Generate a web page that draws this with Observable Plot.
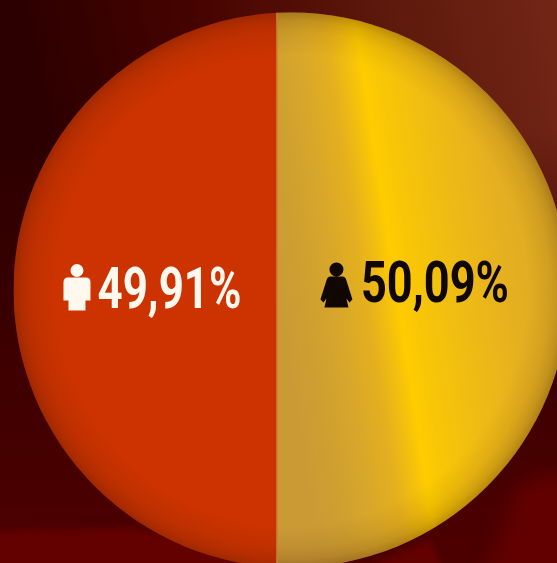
<!DOCTYPE html>
<html>
<head>
<meta charset="utf-8">
<script src="https://cdn.jsdelivr.net/npm/d3@7"></script>
<script src="https://cdn.jsdelivr.net/npm/@observablehq/plot@0.6"></script>
<style>
  html, body { margin: 0; padding: 0; background: #3a0000; overflow: hidden; }
  svg { display: block; }
</style>
</head>
<body>
<div id="chart"></div>
<script>
// Population share by sex
const groups = ["Hombres", "Mujeres"];
const shares = [49.91, 50.09];
const shareLabels = ["49,91%", "50,09%"];
const inkColors = ["#fff8ee", "#100800"];
const labelDy = [25.5, 19.5];
const labelWidths = [144, 148];
const iconDx = [-68.5, -72.5];
const iconDy = [5.5, 3.5];

const W = 557, H = 563;
const disc = {cx: 291, cy: 290, r: 277.5};
const rows = groups.map((group, i) => ({
  group,
  share: shares[i],
  label: shareLabels[i],
  ink: inkColors[i],
  start: i === 0 ? 0 : shares[0],
  end: i === 0 ? shares[0] : 100,
  middle: i === 0 ? shares[0] / 2 : shares[0] + shares[1] / 2
}));

// Person icons are custom symbols so the dot mark can place them.
const unit = (size) => Math.sqrt(size / Math.PI) / 26;
const manSymbol = {
  draw(ctx, size) {
    const k = unit(size);
    ctx.moveTo(6.5 * k, -17 * k);
    ctx.arc(0, -17 * k, 6.5 * k, 0, Math.PI * 2);
    ctx.moveTo(-9 * k, -10 * k);
    ctx.lineTo(9 * k, -10 * k);
    ctx.quadraticCurveTo(13.5 * k, -10 * k, 13.5 * k, -5 * k);
    ctx.lineTo(13.5 * k, 13 * k);
    ctx.lineTo(8.5 * k, 13 * k);
    ctx.lineTo(8.5 * k, 23 * k);
    ctx.lineTo(-8.5 * k, 23 * k);
    ctx.lineTo(-8.5 * k, 13 * k);
    ctx.lineTo(-13.5 * k, 13 * k);
    ctx.lineTo(-13.5 * k, -5 * k);
    ctx.quadraticCurveTo(-13.5 * k, -10 * k, -9 * k, -10 * k);
    ctx.closePath();
  }
};
const womanSymbol = {
  draw(ctx, size) {
    const k = unit(size);
    ctx.moveTo(7 * k, -16 * k);
    ctx.arc(0, -16 * k, 7 * k, 0, Math.PI * 2);
    ctx.moveTo(-6 * k, -9 * k);
    ctx.lineTo(6 * k, -9 * k);
    ctx.quadraticCurveTo(9 * k, -9 * k, 10 * k, -5 * k);
    ctx.lineTo(16 * k, 14 * k);
    ctx.lineTo(13 * k, 17 * k);
    ctx.lineTo(10 * k, 13 * k);
    ctx.lineTo(12 * k, 22 * k);
    ctx.lineTo(-12 * k, 22 * k);
    ctx.lineTo(-10 * k, 13 * k);
    ctx.lineTo(-13 * k, 17 * k);
    ctx.lineTo(-16 * k, 14 * k);
    ctx.lineTo(-10 * k, -5 * k);
    ctx.quadraticCurveTo(-9 * k, -9 * k, -6 * k, -9 * k);
    ctx.closePath();
  }
};

// Backdrop, gradients and the disc clip shared by the marks below.
function backdrop() {
  const g = d3.create("svg:g");
  const defs = g.append("defs");
  const linear = (id, x1, y1, x2, y2, stops) => {
    const l = defs.append("linearGradient").attr("id", id).attr("gradientUnits", "userSpaceOnUse")
      .attr("x1", x1).attr("y1", y1).attr("x2", x2).attr("y2", y2);
    stops.forEach(([o, c, a = 1]) => l.append("stop").attr("offset", o)
      .attr("stop-color", c).attr("stop-opacity", a));
  };
  linear("bgTop", 40, 110, 557, 0, [[0, "#2c0000"], [0.35, "#480400"], [0.7, "#5e1a0c"], [1, "#722616"]]);
  linear("bgLow", 0, 130, 0, 540, [[0, "#3a0000", 0], [0.55, "#3e0000", 1], [1, "#4c0000", 1]]);
  linear("gold", 277, 290, 562, 246, [
    [0, "#cc9a35"], [0.1, "#cf9f30"], [0.2, "#d8a72a"], [0.3, "#e4b01e"], [0.36, "#f2be0e"],
    [0.41, "#ffcc00"], [0.47, "#f9c606"], [0.6, "#f0bd12"], [0.8, "#e5b020"], [1, "#dcaa25"]
  ]);
  const radial = defs.append("radialGradient").attr("id", "rim").attr("gradientUnits", "userSpaceOnUse")
    .attr("cx", disc.cx).attr("cy", disc.cy).attr("r", disc.r);
  [[0.85, 0], [0.93, 0.08], [0.97, 0.17], [1, 0.3]].forEach(([o, a]) =>
    radial.append("stop").attr("offset", o).attr("stop-color", "#3a1000").attr("stop-opacity", a));
  defs.append("clipPath").attr("id", "discClip").append("circle")
    .attr("cx", disc.cx).attr("cy", disc.cy).attr("r", disc.r);
  defs.append("filter").attr("id", "soft").append("feGaussianBlur").attr("stdDeviation", 3);
  defs.append("filter").attr("id", "softer").append("feGaussianBlur").attr("stdDeviation", 9);

  g.append("rect").attr("width", W).attr("height", H).attr("fill", "url(#bgTop)");
  g.append("rect").attr("width", W).attr("height", H).attr("fill", "url(#bgLow)");
  // Skyline silhouettes along the bottom edge
  g.append("path").attr("fill", "#640000").attr("filter", "url(#soft)")
    .attr("d", "M-10,531 L135,528 L320,575 L-10,575 Z M350,575 L430,540 L446,575 Z");
  g.append("path").attr("fill", "#620000").attr("filter", "url(#softer)")
    .attr("d", "M515,490 Q535,472 580,475 L580,590 L475,590 L500,540 Z");
  return g.node();
}

function clipToDisc(index, scales, values, dimensions, context, next) {
  const node = next(index, scales, values, dimensions, context);
  node.setAttribute("clip-path", "url(#discClip)");
  return node;
}

// The labels are set in narrow figures: squeeze each one to its own width.
function narrowTo(width) {
  return (index, scales, values, dimensions, context, next) => {
    const node = next(index, scales, values, dimensions, context);
    node.querySelectorAll("text").forEach((t) => {
      t.setAttribute("textLength", width);
      t.setAttribute("lengthAdjust", "spacingAndGlyphs");
    });
    return node;
  };
}

function rimShade() {
  return d3.create("svg:circle")
    .attr("cx", disc.cx).attr("cy", disc.cy).attr("r", disc.r)
    .attr("fill", "url(#rim)").node();
}

const plot = Plot.plot({
  width: W,
  height: H,
  margin: 0,
  style: {background: "transparent"},
  x: {domain: [0, 100], range: [disc.cx - disc.r, 540.4], axis: null},
  y: {domain: [0, 1], range: [H, 0], axis: null},
  color: {domain: groups, range: ["#cc3300", "url(#gold)"]},
  marks: [
    backdrop,
    // The second half runs on past the end of the scale up to the disc's rim
    rows.map((row, i) => Plot.rect([row], {
      x1: "start", x2: "end", y1: 0, y2: 1,
      fill: "group",
      insetRight: i === 1 ? -30 : 0,
      render: clipToDisc
    })),
    rimShade,
    // Seam where the two halves meet
    Plot.ruleX(rows.slice(1), {
      x: "start", stroke: "#d07a35", strokeWidth: 1.5,
      render: clipToDisc
    }),
    rows.map((row, i) => Plot.dot([row], {
      x: "middle", y: 0.5,
      dx: iconDx[i], dy: iconDy[i],
      symbol: i === 0 ? manSymbol : womanSymbol,
      r: 26,
      fill: "ink",
      stroke: "none"
    })),
    rows.map((row, i) => Plot.text([row], {
      x: "middle", y: 0.5,
      dx: -48, dy: labelDy[i],
      text: "label",
      fill: "ink",
      fontFamily: "Roboto, sans-serif",
      fontWeight: 700,
      fontSize: 58,
      textAnchor: "start",
      lineAnchor: "bottom",
      render: narrowTo(labelWidths[i])
    }))
  ]
});
document.getElementById("chart").append(plot);
</script>
</body>
</html>
